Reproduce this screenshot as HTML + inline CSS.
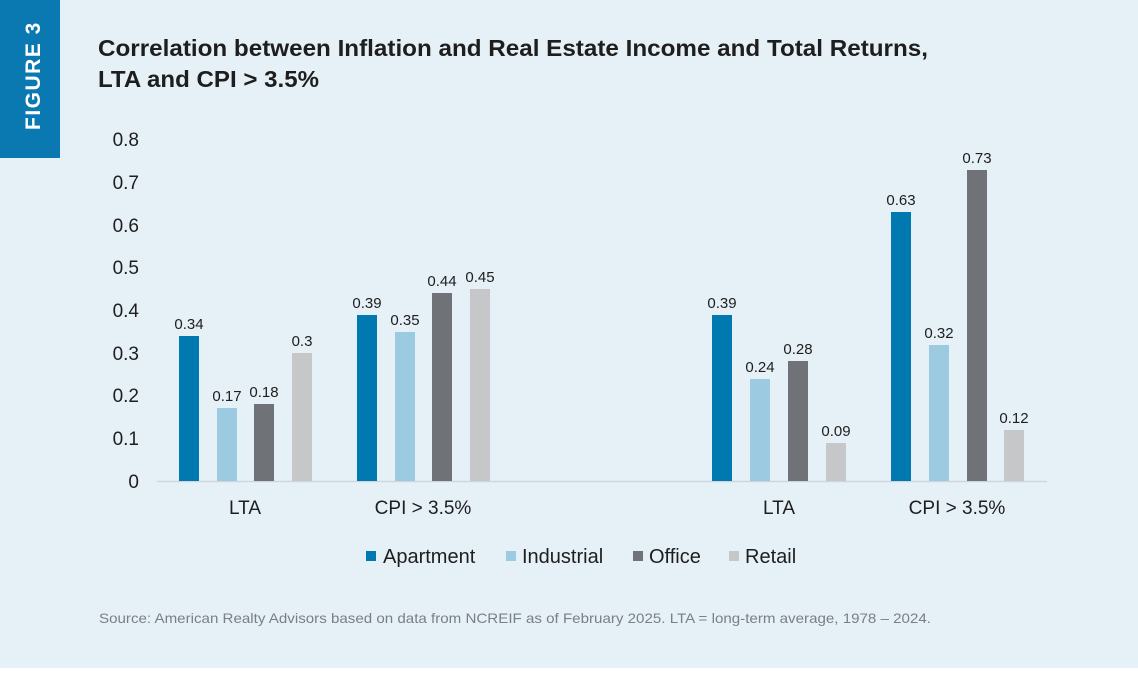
<!DOCTYPE html>
<html><head><meta charset="utf-8"><style>
html,body{margin:0;padding:0;background:#fff}
svg{display:block}
text{font-family:"Liberation Sans",sans-serif}
</style></head><body>
<svg width="1138" height="673" viewBox="0 0 1138 673">
<rect x="0" y="0" width="1138" height="668" fill="#e6f0f7"/>
<rect x="0" y="0" width="60" height="158" fill="#0b79b1"/>
<text transform="translate(40,130) rotate(-90)" font-size="21" font-weight="bold" fill="#fff" letter-spacing="1.5">FIGURE 3</text>
<text x="98" y="56" font-size="23.5" font-weight="bold" fill="#1e1e1e" textLength="830" lengthAdjust="spacingAndGlyphs">Correlation between Inflation and Real Estate Income and Total Returns,</text>
<text x="98" y="87" font-size="23.5" font-weight="bold" fill="#1e1e1e" textLength="221" lengthAdjust="spacingAndGlyphs">LTA and CPI &gt; 3.5%</text>
<g font-size="19" fill="#1e1e1e" text-anchor="end">
<text x="139" y="146">0.8</text><text x="139" y="189">0.7</text><text x="139" y="232">0.6</text>
<text x="139" y="274">0.5</text><text x="139" y="317">0.4</text><text x="139" y="360">0.3</text>
<text x="139" y="402">0.2</text><text x="139" y="445">0.1</text><text x="139" y="488">0</text>
</g>
<line x1="157" y1="481.5" x2="1047" y2="481.5" stroke="#cfd6db" stroke-width="1.5"/>
<g>
<rect x="179" y="336" width="20" height="145" fill="#0079b0"/>
<rect x="217" y="408" width="20" height="73" fill="#9ccbe1"/>
<rect x="254" y="404" width="20" height="77" fill="#6f7377"/>
<rect x="292" y="353" width="20" height="128" fill="#c6c7c9"/>
<rect x="357" y="315" width="20" height="166" fill="#0079b0"/>
<rect x="395" y="332" width="20" height="149" fill="#9ccbe1"/>
<rect x="432" y="293" width="20" height="188" fill="#6f7377"/>
<rect x="470" y="289" width="20" height="192" fill="#c6c7c9"/>
<rect x="712" y="315" width="20" height="166" fill="#0079b0"/>
<rect x="750" y="379" width="20" height="102" fill="#9ccbe1"/>
<rect x="788" y="361" width="20" height="120" fill="#6f7377"/>
<rect x="826" y="443" width="20" height="38" fill="#c6c7c9"/>
<rect x="891" y="212" width="20" height="269" fill="#0079b0"/>
<rect x="929" y="345" width="20" height="136" fill="#9ccbe1"/>
<rect x="967" y="170" width="20" height="311" fill="#6f7377"/>
<rect x="1004" y="430" width="20" height="51" fill="#c6c7c9"/>
</g>
<g font-size="15" fill="#1e1e1e" text-anchor="middle">
<text x="189" y="329">0.34</text><text x="227" y="401">0.17</text><text x="264" y="397">0.18</text><text x="302" y="346">0.3</text>
<text x="367" y="308">0.39</text><text x="405" y="325">0.35</text><text x="442" y="286">0.44</text><text x="480" y="282">0.45</text>
<text x="722" y="308">0.39</text><text x="760" y="372">0.24</text><text x="798" y="354">0.28</text><text x="836" y="436">0.09</text>
<text x="901" y="205">0.63</text><text x="939" y="338">0.32</text><text x="977" y="163">0.73</text><text x="1014" y="423">0.12</text>
</g>
<g font-size="19" fill="#1e1e1e" text-anchor="middle">
<text x="245" y="514">LTA</text><text x="423" y="514">CPI &gt; 3.5%</text>
<text x="779" y="514">LTA</text><text x="957" y="514">CPI &gt; 3.5%</text>
</g>
<g font-size="20" fill="#1e1e1e">
<rect x="366" y="551" width="10" height="10" fill="#0079b0"/><text x="383" y="563">Apartment</text>
<rect x="506" y="551" width="10" height="10" fill="#9ccbe1"/><text x="522" y="563">Industrial</text>
<rect x="633" y="551" width="10" height="10" fill="#6f7377"/><text x="649" y="563">Office</text>
<rect x="729" y="551" width="10" height="10" fill="#c6c7c9"/><text x="745" y="563">Retail</text>
</g>
<text x="99" y="623" font-size="14" fill="#7a7f85" textLength="832" lengthAdjust="spacingAndGlyphs">Source: American Realty Advisors based on data from NCREIF as of February 2025. LTA = long-term average, 1978 – 2024.</text>
</svg>
</body></html>
